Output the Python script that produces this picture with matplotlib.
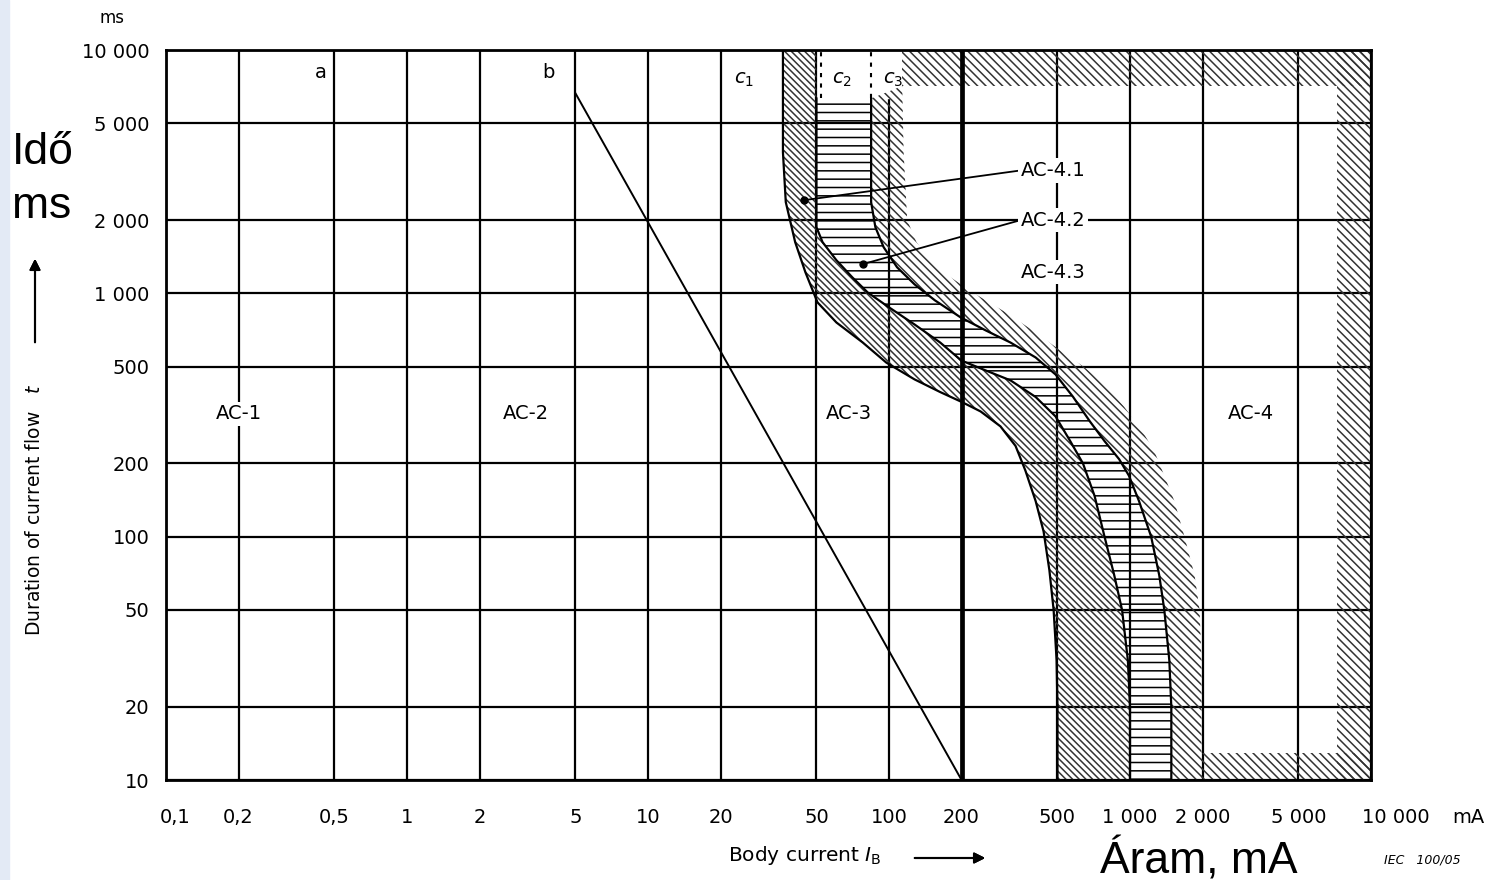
import numpy as np
import matplotlib.pyplot as plt
from matplotlib.patches import Rectangle

plt.rcParams['hatch.linewidth'] = 1.1

# axis ticks (current in mA, time in ms)
x_ticks = [0.1, 0.2, 0.5, 1, 2, 5, 10, 20, 50, 100, 200, 500, 1000, 2000, 5000, 10000]
x_tick_labels = ['0,1', '0,2', '0,5', '1', '2', '5', '10', '20', '50', '100', '200',
                 '500', '1 000', '2 000', '5 000', '10 000']
y_ticks = [10, 20, 50, 100, 200, 500, 1000, 2000, 5000, 10000]
y_tick_labels = ['10', '20', '50', '100', '200', '500', '1 000', '2 000', '5 000', '10 000']

# curve b
b_current = [5, 200]
b_time = [6640, 10]

# c1 - left edge of the AC-4.1 band
c1_time = [10000, 3800, 2370, 1623, 1220, 918, 759, 628, 519, 443, 393, 358, 327, 284,
           236, 187, 140, 105, 72.7, 50, 31, 20, 10]
c1_current = [36.3, 36.3, 37.3, 40.8, 45, 50.5, 60.5, 77.8, 97.5, 127.6, 163, 200, 240, 290,
              335, 368, 406, 438, 463, 482, 496, 500, 500]

# c2 - between AC-4.1 and AC-4.2
c2_time = [10000, 6320, 1870, 1623, 1368, 1164, 1006, 876, 745, 628, 529, 482, 439, 375,
           312, 247, 200, 147, 100, 69.5, 50, 31, 20, 10]
c2_current = [50, 50, 50, 53, 60.5, 70.4, 81.8, 100, 127.6, 163, 200, 252, 319, 406,
              491, 565, 638, 713, 784, 860, 927, 980, 1000, 1000]

# c3 - between AC-4.2 and AC-4.3
c3_time = [6320, 2370, 1870, 1548, 1280, 1089, 936, 797, 704, 628, 545, 464, 375, 298,
           247, 208, 178, 140, 100, 69.5, 50, 31, 20, 10]
c3_current = [84.3, 84.3, 87.8, 95, 108, 127.6, 155, 198, 252, 319, 406, 491, 581, 681,
              784, 902, 990, 1090, 1224, 1322, 1388, 1456, 1484, 1484]

# outer edge of the AC-4.3 band
c4_time = [7110, 3800, 2000, 1623, 1368, 1164, 991, 835, 691, 582, 495, 424, 342, 272,
           225, 178, 140, 100, 69.5, 50, 31, 10]
c4_current = [113.5, 115, 119, 130, 148, 180, 229, 305, 406, 514, 650, 784, 945, 1123,
              1260, 1388, 1528, 1683, 1853, 1944, 1980, 1980]

# hatched frame round AC-4
frame_current = 7240
frame_time_top = 7110
frame_time_bottom = 12.9

# zone labels
zone_labels = ['AC-1', 'AC-2', 'AC-3', 'AC-4']
zone_current = [0.2, 3.1, 68, 3160]
zone_time = [320, 320, 320, 320]

curve_labels = ['a', 'b', '$c_1$', '$c_2$', '$c_3$']
curve_label_current = [0.44, 3.85, 25, 64, 104]
curve_label_time = [8070, 8070, 7600, 7600, 7600]

W, H = 1495, 880
fig = plt.figure(figsize=(W / 100, H / 100), dpi=100)
fig.patches.append(Rectangle((0, 0), 9 / W, 1, transform=fig.transFigure,
                             color='#e3eaf5', zorder=0))

ax = fig.add_axes([166 / W, 100 / H, 1205 / W, 730 / H])
ax.set_xscale('log')
ax.set_yscale('log')
ax.set_xlim(0.1, 10000)
ax.set_ylim(10, 10000)
# first and last x labels sit off-centre in the original, drawn below by hand
ax.set_xticks(x_ticks, [''] + x_tick_labels[1:-1] + [''])
ax.set_yticks(y_ticks, y_tick_labels)
ax.minorticks_off()
ax.tick_params(length=0, labelsize=14)
ax.tick_params(axis='x', pad=20)
ax.tick_params(axis='y', pad=12)
ax.grid(True, color='black', lw=1.6)
for s in ax.spines.values():
    s.set_linewidth(2)
    s.set_zorder(4)

c1_t, c1_i = np.array(c1_time), np.array(c1_current)
c2_t, c2_i = np.array(c2_time), np.array(c2_current)
c3_t, c3_i = np.array(c3_time), np.array(c3_current)
c4_t, c4_i = np.array(c4_time), np.array(c4_current)

# AC-4.1 band (c1 .. c2)
ax.fill(np.r_[c1_i, c2_i[::-1]], np.r_[c1_t, c2_t[::-1]], facecolor='none',
        edgecolor='0.2', hatch='\\' * 5, linewidth=0, zorder=2)
# AC-4.2 band (c2 .. c3), horizontal stripes
m = c2_t <= c3_t[0]
ax.fill(np.r_[c2_i[m], c3_i[::-1]], np.r_[c2_t[m], c3_t[::-1]], facecolor='none',
        edgecolor='black', hatch='--', linewidth=0, zorder=2)
# AC-4.3 band (c3 .. outer edge)
ax.fill(np.r_[c3_i, c4_i[::-1]], np.r_[c3_t, c4_t[::-1]], facecolor='none',
        edgecolor='0.2', hatch='\\' * 4, linewidth=0, zorder=2)

# white label area above the stripes
ax.fill([c3_i[0], c4_i[0], c4_i[0], c3_i[0]], [c3_t[0], c3_t[0], 10000, 10000],
        color='white', zorder=1.8)

# frame round AC-4
frame_kw = dict(facecolor='none', edgecolor='0.2', hatch='\\' * 4, linewidth=0, zorder=2)
ax.fill([c4_i[0], 10000, 10000, c4_i[0]], [frame_time_top, frame_time_top, 10000, 10000], **frame_kw)
ax.fill([frame_current, 10000, 10000, frame_current], [10, 10, 10000, 10000], **frame_kw)
ax.fill([c4_i[-1], 10000, 10000, c4_i[-1]], [10, 10, frame_time_bottom, frame_time_bottom], **frame_kw)

# curves
ax.axvline(200, color='black', lw=3.4, zorder=2.5)
ax.plot(b_current, b_time, color='black', lw=1.4, zorder=3)
ax.plot(c1_current, c1_time, color='black', lw=1.6, zorder=3)
ax.plot(c2_i[m], c2_t[m], color='black', lw=1.6, zorder=3)
ax.plot(c3_current, c3_time, color='black', lw=1.6, zorder=3)
ax.plot([52, 52], [c3_t[0], 10000], color='black', lw=1.5, ls=(0, (2, 3)), zorder=3)
ax.plot([c3_i[0]] * 2, [c3_t[0], 10000], color='black', lw=1.5, ls=(0, (2, 3)), zorder=3)

box = dict(facecolor='white', edgecolor='none', pad=2)
for lab, xi, ti in zip(zone_labels, zone_current, zone_time):
    ax.text(xi, ti, lab, ha='center', va='center', fontsize=14, bbox=box, zorder=5)
for lab, xi, ti in zip(curve_labels, curve_label_current, curve_label_time):
    ax.text(xi, ti, lab, ha='center', va='center', fontsize=14, zorder=5)

# AC-4.x labels with leader lines
ax.plot([44.5, 77.8], [2415, 1318], 'o', color='black', ms=5, zorder=5)
lead = dict(arrowstyle='-', color='black', lw=1.3, shrinkA=0, shrinkB=0, relpos=(0, 0.5))
ax.annotate('AC-4.1', xy=(44.5, 2415), xytext=(480, 3200), ha='center', va='center',
            fontsize=14, bbox=box, arrowprops=lead, zorder=5)
ax.annotate('AC-4.2', xy=(77.8, 1318), xytext=(480, 2000), ha='center', va='center',
            fontsize=14, bbox=box, arrowprops=lead, zorder=5)
ax.text(480, 1221, 'AC-4.3', ha='center', va='center', fontsize=14, bbox=box, zorder=5)

# axis texts
fig.text(175 / W, 1 - 817 / H, x_tick_labels[0], ha='center', va='center', fontsize=14)
fig.text(1396 / W, 1 - 817 / H, x_tick_labels[-1], ha='center', va='center', fontsize=14)
fig.text(1468 / W, 1 - 817 / H, 'mA', ha='center', va='center', fontsize=14)
fig.text(112 / W, 1 - 18 / H, 'ms', ha='center', va='center', fontsize=12)
fig.text(805 / W, 1 - 855 / H, r'Body current $I_\mathrm{B}$', ha='center', va='center', fontsize=14.5)
fig.text(1422 / W, 1 - 860 / H, 'IEC   100/05', ha='center', va='center', fontsize=9, style='italic')
fig.text(35 / W, 1 - 510 / H, 'Duration of current flow   $t$', rotation=90,
         ha='center', va='center', fontsize=13.5)
arrow = dict(arrowstyle='-|>', color='black', lw=1.5, mutation_scale=16)
fig.add_artist(plt.annotate('', xy=(988 / W, 1 - 858 / H), xytext=(912 / W, 1 - 858 / H),
                            xycoords='figure fraction', arrowprops=arrow))
fig.add_artist(plt.annotate('', xy=(35 / W, 1 - 256 / H), xytext=(35 / W, 1 - 345 / H),
                            xycoords='figure fraction', arrowprops=arrow))

big = dict(fontsize=32, family='Liberation Sans', ha='left', va='center')
fig.text(12 / W, 1 - 152 / H, 'Idő', **big)
fig.text(12 / W, 1 - 207 / H, 'ms', **big)
fig.text(1100 / W, 1 - 860 / H, 'Áram, mA', **big)

fig.savefig('out.png', dpi=100, facecolor='white')
